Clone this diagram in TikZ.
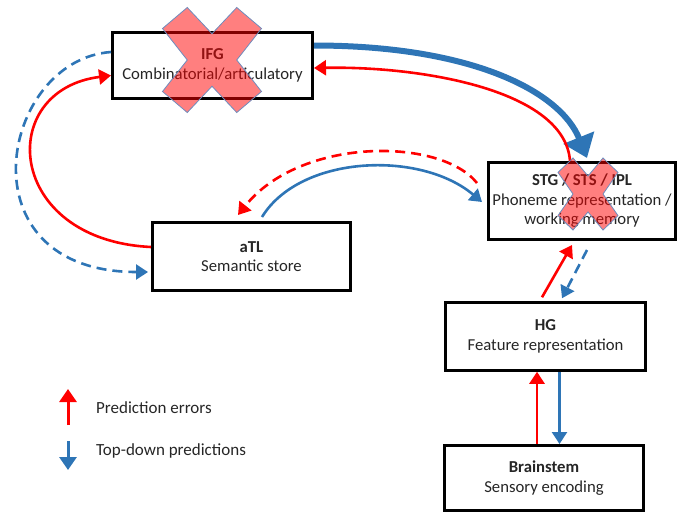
\documentclass[tikz,border=0pt]{standalone}
\usepackage{fontspec}
\setmainfont{Carlito}
\usetikzlibrary{arrows.meta}
\definecolor{errred}{RGB}{255,0,0}
\definecolor{predblue}{RGB}{46,117,182}
\definecolor{crossedge}{RGB}{110,140,190}
\begin{document}
\begin{tikzpicture}[x=1pt,y=-1pt,
  box/.style={draw=black, line width=3pt, fill=white, align=center,
    font=\fontsize{16.7}{19.5}\selectfont, text=black!85, inner sep=0pt},
  legendtext/.style={font=\fontsize{17}{19}\selectfont, text=black!85, anchor=west, inner sep=0pt},
  tip/.style={-{Triangle[length=12pt,width=15pt]}},
  err/.style={draw=errred, line width=2.6pt, tip},
  pred/.style={draw=predblue, line width=2.6pt, tip},
  dashline/.style={dash pattern=on 10pt off 6pt},
  crossout/.pic={
    \filldraw[fill=errred, fill opacity=0.5, draw=crossedge, line width=0.8pt]
      (-0.5,-0.3) -- (-0.25,-0.5) -- (0,-0.25) -- (0.25,-0.5) -- (0.5,-0.3)
      -- (0.25,0) -- (0.5,0.3) -- (0.25,0.5) -- (0,0.25) -- (-0.25,0.5)
      -- (-0.5,0.3) -- (-0.25,0) -- cycle;
  }
]
\useasboundingbox (0,0) rectangle (679,515);

% Processing stages
\node[box, minimum width=200pt, minimum height=66pt] (ifg) at (212.5,65.5)
  {\textbf{IFG}\\Combinatorial/articulatory};
\node[box, minimum width=187pt, minimum height=77pt] (stg) at (582,201)
  {\textbf{STG / STS / IPL}\\Phoneme representation /\\working memory};
\node[box, minimum width=198pt, minimum height=68pt] (atl) at (251.5,256.5)
  {\textbf{aTL}\\Semantic store};
\node[box, line width=2.5pt, minimum width=200pt, minimum height=68pt] (hg) at (545.5,336.5)
  {\textbf{HG}\\Feature representation};
\node[box, minimum width=199pt, minimum height=65pt] (bs) at (544,478)
  {\textbf{Brainstem}\\Sensory encoding};

% IFG <-> STG
\draw[draw=predblue, line width=6pt, -{Triangle[length=22pt,width=32pt]}]
  ([yshift=20pt]ifg.east) .. controls +(157,0) and +(-27,-67) .. ([xshift=5pt,yshift=3pt]stg.north);
\draw[err]
  ([xshift=-12pt]stg.north) .. controls +(-5,-71) and +(107,-2) .. ([yshift=-2.5pt]ifg.east);

% IFG <-> aTL
\draw[err]
  ([yshift=9.5pt]atl.west) .. controls +(-146,-7) and +(-116,14.5) .. ([yshift=-10pt]ifg.west);
\draw[pred, dashline]
  ([yshift=13.5pt]ifg.west) .. controls +(-111,8) and +(-188,0) .. ([xshift=-3pt,yshift=-15.5pt]atl.west);

% aTL <-> STG
\draw[err, dashline]
  ([xshift=-10pt,yshift=18pt]stg.west) .. controls +(-37,-46) and +(62,-78) .. ([xshift=-13.5pt,yshift=6pt]atl.north);
\draw[pred]
  ([xshift=10.5pt,yshift=4pt]atl.north) .. controls +(38,-62) and +(-62,-52) .. ([xshift=-5pt,yshift=-1pt]stg.west);

% STG <-> HG
\draw[err] ([xshift=-3.5pt,yshift=4pt]hg.north) -- ([xshift=-10pt,yshift=-4pt]stg.south);
\draw[pred, dashline] ([xshift=5pt,yshift=-9pt]stg.south) -- ([xshift=16.5pt,yshift=3pt]hg.north);

% HG <-> Brainstem
\draw[err] ([xshift=-7pt]bs.north) -- ([xshift=-7pt]bs.north |- hg.south);
\draw[pred] ([xshift=14pt]hg.south) -- ([xshift=14pt]hg.south |- bs.north);

% Lesion marks
\pic[xscale=99, yscale=105] at (212,60) {crossout};
\pic[xscale=60, yscale=72] at (588,194) {crossout};

% Legend
\node[legendtext] (perr) at (96,408) {Prediction errors};
\node[legendtext] (tdp) at (96,451) {Top-down predictions};
\coordinate (e0) at (68,425);
\coordinate (e1) at (68,389);
\coordinate (p0) at (68,441);
\coordinate (p1) at (68,470);
\draw[draw=errred, line width=3pt, -{Triangle[length=13pt,width=17pt]}] (e0) -- (e1);
\draw[draw=predblue, line width=3pt, -{Triangle[length=13pt,width=17pt]}] (p0) -- (p1);
\end{tikzpicture}
\end{document}
